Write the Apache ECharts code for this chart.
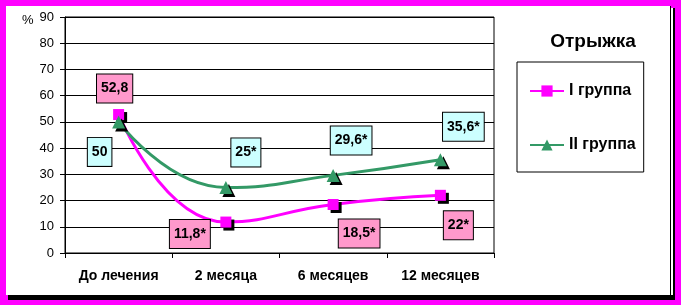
<!DOCTYPE html>
<html><head><meta charset="utf-8">
<script src="https://cdn.jsdelivr.net/npm/echarts@6/dist/echarts.min.js"></script>
<style>
html,body{margin:0;padding:0;background:#ff00ff;width:681px;height:305px;overflow:hidden}
#shadow{position:absolute;left:8px;top:8px;width:667px;height:292px;background:#000}
#gap{position:absolute;left:671px;top:8px;width:2px;height:287px;background:#fff}
#paper{position:absolute;left:6px;top:6px;width:664px;height:289px;background:#fff;border-right:1px solid #000}
#chart{position:absolute;left:0;top:0;width:681px;height:305px}
</style></head><body>
<div id="shadow"></div><div id="gap"></div><div id="paper"></div><div id="chart"></div>
<script>
const categories = ['До лечения', '2 месяца', '6 месяцев', '12 месяцев'];
const group1 = [52.8, 11.8, 18.5, 22];
const group2 = [50, 25, 29.6, 35.6];
const group1Labels = ['52,8', '11,8*', '18,5*', '22*'];
const group2Labels = ['50', '25*', '29,6*', '35,6*'];
const seriesNames = ['I группа', 'II группа'];
const yMin = 0, yMax = 90, yStep = 10;
const titleText = 'Отрыжка';

const FONT = '"Liberation Sans", Arial, sans-serif';

function buildData(values, labels, offsets, bg) {
  return values.map((v, i) => ({
    value: v,
    label: {
      show: true,
      position: 'inside',
      offset: offsets[i],
      formatter: labels[i],
      backgroundColor: bg,
      borderColor: '#000',
      borderWidth: 1,
      padding: [6, 4, 6, 4],
      lineHeight: 16,
      color: '#000',
      fontWeight: 'bold',
      fontSize: 14,
      fontFamily: FONT,
      align: 'center',
      verticalAlign: 'middle'
    }
  }));
}

const off1 = [[-4, -26], [-36, 12], [26, 29], [18, 30]];
const off2 = [[-19, 30], [20, -35], [18, -35], [23, -33]];

const chart = echarts.init(document.getElementById('chart'), null, {renderer: 'canvas'});
chart.setOption({
  animation: false,
  backgroundColor: 'transparent',
  textStyle: {fontFamily: FONT},
  title: {
    text: titleText, left: 588, top: 27, textAlign: 'center',
    textStyle: {fontSize: 19, fontWeight: 'bold', color: '#000', fontFamily: FONT}
  },
  legend: {
    orient: 'vertical', left: 517, top: 62,
    borderColor: '#000', borderWidth: 1,
    padding: [21, 8, 19, 12],
    itemWidth: 34, itemHeight: 14, itemGap: 38,
    data: seriesNames,
    textStyle: {fontSize: 16, fontWeight: 'bold', color: '#000', fontFamily: FONT}
  },
  graphic: [{
    type: 'text', left: 22, top: 14,
    style: {text: '%', fontSize: 13, fill: '#000', font: '13px ' + FONT}
  }],
  grid: {left: 65, right: 187, top: 17, bottom: 52, show: true, borderColor: '#000', borderWidth: 1, backgroundColor: 'transparent'},
  xAxis: {
    type: 'category', data: categories, boundaryGap: true,
    axisLine: {lineStyle: {color: '#000', width: 1}},
    axisTick: {show: true, length: 5, lineStyle: {color: '#000'}},
    axisLabel: {color: '#000', fontSize: 14, fontWeight: 'bold', margin: 16, fontFamily: FONT}
  },
  yAxis: {
    type: 'value', min: yMin, max: yMax, interval: yStep,
    axisLine: {show: true, lineStyle: {color: '#000', width: 1}},
    axisTick: {show: true, length: 5, lineStyle: {color: '#000'}},
    axisLabel: {color: '#000', fontSize: 13, margin: 11, fontFamily: FONT},
    splitLine: {lineStyle: {color: '#000', width: 1}}
  },
  series: [{
    name: seriesNames[0], type: 'line', smooth: 0.5,
    symbol: 'rect', symbolSize: 11,
    lineStyle: {color: '#ff00ff', width: 3},
    itemStyle: {color: '#ff00ff', shadowColor: '#000', shadowOffsetX: 3, shadowOffsetY: 3, shadowBlur: 0},
    data: buildData(group1, group1Labels, off1, '#ff99cc'),
    z: 3
  }, {
    name: seriesNames[1], type: 'line', smooth: 0.5,
    symbol: 'triangle', symbolSize: 13,
    lineStyle: {color: '#339966', width: 3},
    itemStyle: {color: '#339966', shadowColor: '#000', shadowOffsetX: 3, shadowOffsetY: 3, shadowBlur: 0},
    data: buildData(group2, group2Labels, off2, '#ccffff'),
    z: 4
  }]
});
</script>
</body></html>
